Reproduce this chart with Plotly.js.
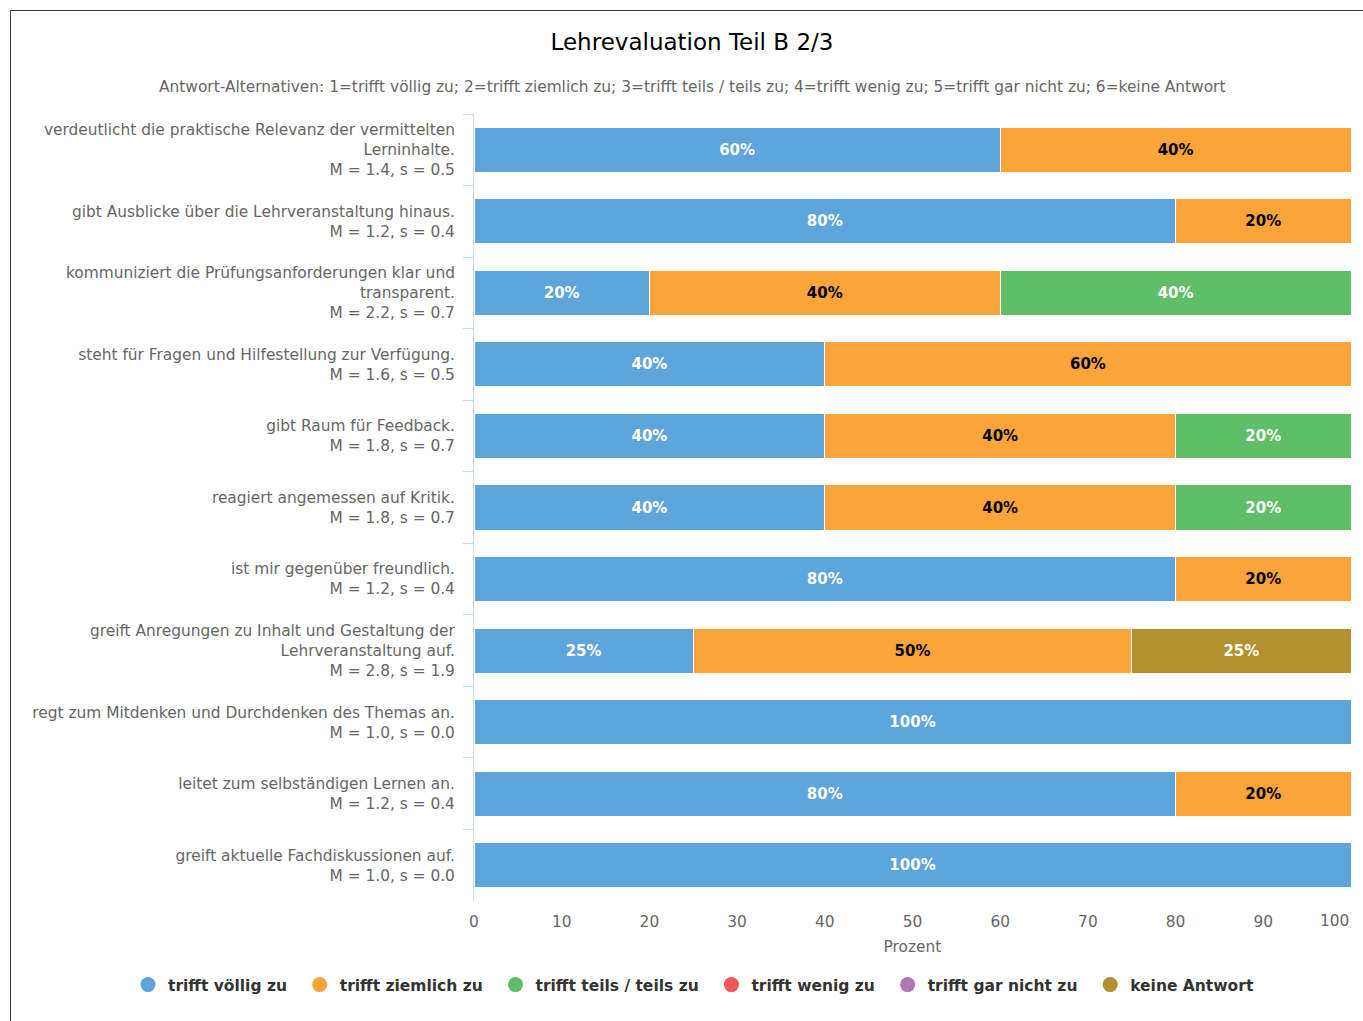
<!DOCTYPE html>
<html>
<head>
<meta charset="utf-8">
<script src="https://cdn.plot.ly/plotly-3.0.1.min.js"></script>
<style>
  html, body { margin: 0; padding: 0; width: 1363px; height: 1021px; overflow: hidden; background: #fff; }
  #frame { position: absolute; left: 10px; top: 10px; width: 2000px; height: 2000px; border: 1px solid #3a3a3a; box-sizing: border-box; }
  #chart { position: absolute; left: 0; top: 0; width: 1363px; height: 1021px; }
</style>
</head>
<body>
<div id="frame"></div>
<div id="chart"></div>
<script>
const categories = [
  "verdeutlicht die praktische Relevanz der vermittelten<br>Lerninhalte.<br>M = 1.4, s = 0.5",
  "gibt Ausblicke über die Lehrveranstaltung hinaus.<br>M = 1.2, s = 0.4",
  "kommuniziert die Prüfungsanforderungen klar und<br>transparent.<br>M = 2.2, s = 0.7",
  "steht für Fragen und Hilfestellung zur Verfügung.<br>M = 1.6, s = 0.5",
  "gibt Raum für Feedback.<br>M = 1.8, s = 0.7",
  "reagiert angemessen auf Kritik.<br>M = 1.8, s = 0.7",
  "ist mir gegenüber freundlich.<br>M = 1.2, s = 0.4",
  "greift Anregungen zu Inhalt und Gestaltung der<br>Lehrveranstaltung auf.<br>M = 2.8, s = 1.9",
  "regt zum Mitdenken und Durchdenken des Themas an.<br>M = 1.0, s = 0.0",
  "leitet zum selbständigen Lernen an.<br>M = 1.2, s = 0.4",
  "greift aktuelle Fachdiskussionen auf.<br>M = 1.0, s = 0.0"
];

const seriesNames = ["trifft völlig zu", "trifft ziemlich zu", "trifft teils / teils zu", "trifft wenig zu", "trifft gar nicht zu", "keine Antwort"];
const seriesColors = ["#5DA5DA", "#FAA43A", "#60BD68", "#F15854", "#B276B2", "#B2912F"];
const labelColors = ["#ffffff", "#000000", "#ffffff", "#ffffff", "#ffffff", "#ffffff"];

const triffVoellig   = [60, 80, 20, 40, 40, 40, 80, 25, 100, 80, 100];
const triffZiemlich  = [40, 20, 40, 60, 40, 40, 20, 50, 0, 20, 0];
const triffTeils     = [0, 0, 40, 0, 20, 20, 0, 0, 0, 0, 0];
const triffWenig     = [0, 0, 0, 0, 0, 0, 0, 0, 0, 0, 0];
const triffGarNicht  = [0, 0, 0, 0, 0, 0, 0, 0, 0, 0, 0];
const keineAntwort   = [0, 0, 0, 0, 0, 0, 0, 25, 0, 0, 0];

const seriesValues = [triffVoellig, triffZiemlich, triffTeils, triffWenig, triffGarNicht, keineAntwort];

const xTicks = [0, 10, 20, 30, 40, 50, 60, 70, 80, 90, 100];

const FONT = "DejaVu Sans, Verdana, sans-serif";
const FS = 15.4;

const traces = [];
seriesValues.forEach((vals, i) => {
  traces.push({
    type: "bar",
    orientation: "h",
    name: seriesNames[i],
    y: categories,
    x: vals,
    text: vals.map(v => v > 0 ? v + "%" : ""),
    texttemplate: "%{text}",
    textposition: "inside",
    insidetextanchor: "middle",
    textangle: 0,
    constraintext: "none",
    insidetextfont: { family: FONT, size: 15, color: labelColors[i], weight: "bold" },
    marker: { color: seriesColors[i], line: { color: "#ffffff", width: 1 } },
    showlegend: false,
    hoverinfo: "name+x"
  });
});
// legend entries (round markers); an en space after each name widens the gap between items
seriesNames.forEach((n, i) => {
  traces.push({
    type: "scatter",
    mode: "markers",
    name: n + "\u2002",
    x: [null],
    y: [null],
    marker: { color: seriesColors[i], size: 15, symbol: "circle" },
    showlegend: true,
    hoverinfo: "skip"
  });
});

const plotL = 474, plotR = 1351, plotT = 114, plotB = 901;
const pw = plotR - plotL, ph = plotB - plotT;
const px = X => (X - plotL) / pw;
const py = Y => (plotB - Y) / ph;

const lastTick = xTicks[xTicks.length - 1];
// the last tick label is drawn right-aligned to its tick (kept inside the chart)
const xTickText = xTicks.map(t => t === lastTick ? "" : String(t));

const layout = {
  width: 1363,
  height: 1021,
  paper_bgcolor: "rgba(0,0,0,0)",
  plot_bgcolor: "rgba(0,0,0,0)",
  margin: { l: plotL, r: 1363 - plotR, t: plotT, b: 1021 - plotB, pad: 0 },
  font: { family: FONT, size: FS, color: "#666666" },
  barmode: "stack",
  bargap: 0.37,
  title: {
    text: "Lehrevaluation Teil B 2/3",
    font: { family: FONT, size: 23, color: "#000000" },
    xref: "paper", x: px(692), xanchor: "center",
    yref: "container", y: 1 - 42 / 1021, yanchor: "middle"
  },
  annotations: [{
    text: "Antwort-Alternativen: 1=trifft völlig zu; 2=trifft ziemlich zu; 3=trifft teils / teils zu; 4=trifft wenig zu; 5=trifft gar nicht zu; 6=keine Antwort",
    xref: "paper", yref: "paper",
    x: px(692), y: py(87), xanchor: "center", yanchor: "middle",
    showarrow: false,
    font: { family: FONT, size: FS, color: "#666666" }
  }, {
    text: String(lastTick),
    xref: "x", yref: "paper",
    x: lastTick, y: py(921), xanchor: "right", yanchor: "middle",
    showarrow: false,
    font: { family: FONT, size: FS, color: "#666666" }
  }],
  xaxis: {
    range: [0, 100],
    tickvals: xTicks,
    ticktext: xTickText,
    ticklabelstandoff: 10,
    showgrid: false,
    zeroline: false,
    showline: false,
    ticks: "",
    tickfont: { family: FONT, size: FS, color: "#666666" },
    title: { text: "Prozent", font: { family: FONT, size: FS, color: "#666666" }, standoff: 10 },
    fixedrange: true
  },
  yaxis: {
    type: "category",
    autorange: "reversed",
    showgrid: false,
    zeroline: false,
    showline: true,
    linecolor: "#ccd6eb",
    linewidth: 1,
    ticks: "outside",
    tickson: "boundaries",
    ticklen: 10,
    tickcolor: "#ccd6eb",
    tickwidth: 1,
    ticklabelstandoff: 15,
    tickfont: { family: FONT, size: FS, color: "#666666" },
    fixedrange: true
  },
  legend: {
    orientation: "h",
    xref: "paper", yref: "paper",
    x: px(128), xanchor: "left",
    y: py(985), yanchor: "middle",
    font: { family: FONT, size: 15.5, color: "#333333", weight: "bold" },
    itemclick: false,
    itemdoubleclick: false,
    traceorder: "normal"
  },
  showlegend: true
};

Plotly.newPlot("chart", traces, layout, { displayModeBar: false, staticPlot: true });
</script>
</body>
</html>
